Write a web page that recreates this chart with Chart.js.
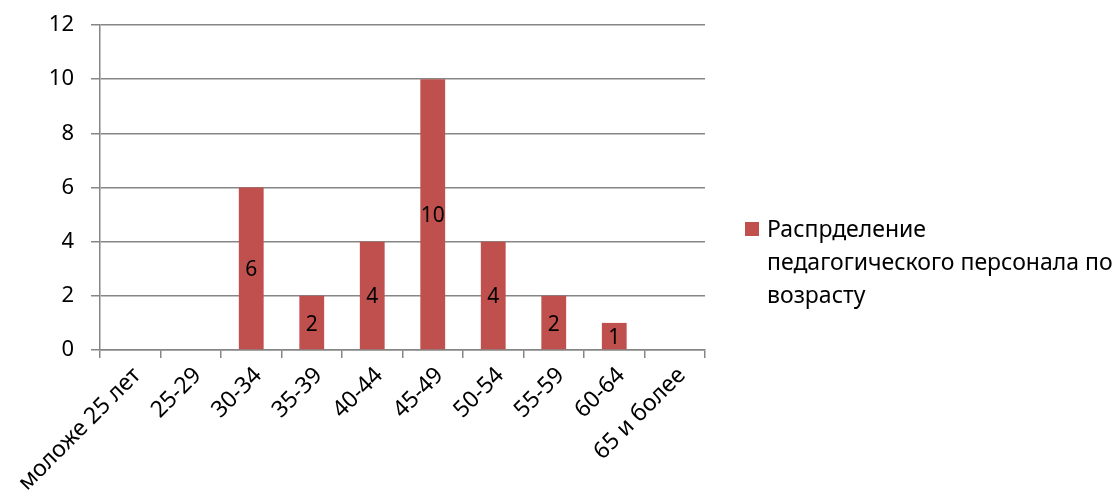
<!DOCTYPE html>
<html>
<head>
<meta charset="utf-8">
<script src="https://cdn.jsdelivr.net/npm/chart.js@4/dist/chart.umd.min.js"></script>
<style>
  html, body { margin: 0; padding: 0; background: #fff; }
  #wrap { width: 1118px; height: 502px; }
</style>
</head>
<body>
<div id="wrap"><canvas id="ageChart" width="1118" height="502"></canvas></div>
<script>
const categories = ['моложе 25 лет', '25-29', '30-34', '35-39', '40-44', '45-49', '50-54', '55-59', '60-64', '65 и более'];
const counts = [0, 0, 6, 2, 4, 10, 4, 2, 1, 0];
const seriesName = ['Распрделение', 'педагогического персонала по', 'возрасту'];
const yTicks = [0, 2, 4, 6, 8, 10, 12];

const FONT = '"Noto Sans", sans-serif';
const BAR = '#C0504D';
const GRID = '#868686';

// value labels in the middle of each bar
const barLabels = {
    id: 'barLabels',
    afterDatasetsDraw(chart) {
        const ctx = chart.ctx;
        const meta = chart.getDatasetMeta(0);
        ctx.save();
        ctx.font = '21px ' + FONT;
        ctx.fillStyle = '#000';
        ctx.textAlign = 'center';
        ctx.textBaseline = 'middle';
        meta.data.forEach((bar, i) => {
            const v = counts[i];
            if (!v) return;
            ctx.fillText(String(v), bar.x, (bar.y + bar.base) / 2 + 2);
        });
        ctx.restore();
    }
};

// legend on the right, wrapped over three lines
const sideLegend = {
    id: 'sideLegend',
    afterDraw(chart) {
        const ctx = chart.ctx;
        ctx.save();
        ctx.fillStyle = BAR;
        ctx.fillRect(745, 222, 14, 14);
        ctx.fillStyle = '#000';
        ctx.font = '23px ' + FONT;
        ctx.textAlign = 'left';
        ctx.textBaseline = 'middle';
        seriesName.forEach((line, i) => ctx.fillText(line, 767, 230 + i * 33));
        ctx.restore();
    }
};

new Chart('ageChart', {
    type: 'bar',
    data: {
        labels: categories,
        datasets: [{
            label: seriesName.join(' '),
            data: counts,
            backgroundColor: BAR,
            borderWidth: 0,
            categoryPercentage: 1,
            barPercentage: 0.41
        }]
    },
    options: {
        responsive: false,
        animation: false,
        layout: { padding: { top: 25, right: 413, left: 0, bottom: 0 } },
        plugins: {
            legend: { display: false },
            tooltip: { enabled: false }
        },
        scales: {
            x: {
                grid: { drawOnChartArea: false, drawTicks: true, tickLength: 8, color: GRID, lineWidth: 1.5, offset: true },
                border: { color: GRID, width: 1.5 },
                ticks: { color: '#000', font: { family: FONT, size: 23 }, minRotation: 45, maxRotation: 45, padding: 4, labelOffset: 7, autoSkip: false },
                afterFit(scale) { scale.height = 152; scale.paddingLeft = 0; scale.paddingRight = 0; }
            },
            y: {
                min: 0,
                max: 12,
                afterBuildTicks(scale) { scale.ticks = yTicks.map(v => ({ value: v })); },
                grid: { color: GRID, lineWidth: 1.5, tickLength: 9 },
                border: { color: GRID, width: 1.5 },
                ticks: { color: '#000', font: { family: FONT, size: 22 }, padding: 17 },
                afterFit(scale) { scale.width = 100; scale.paddingTop = 0; scale.paddingBottom = 0; }
            }
        }
    },
    plugins: [barLabels, sideLegend]
});
</script>
</body>
</html>
